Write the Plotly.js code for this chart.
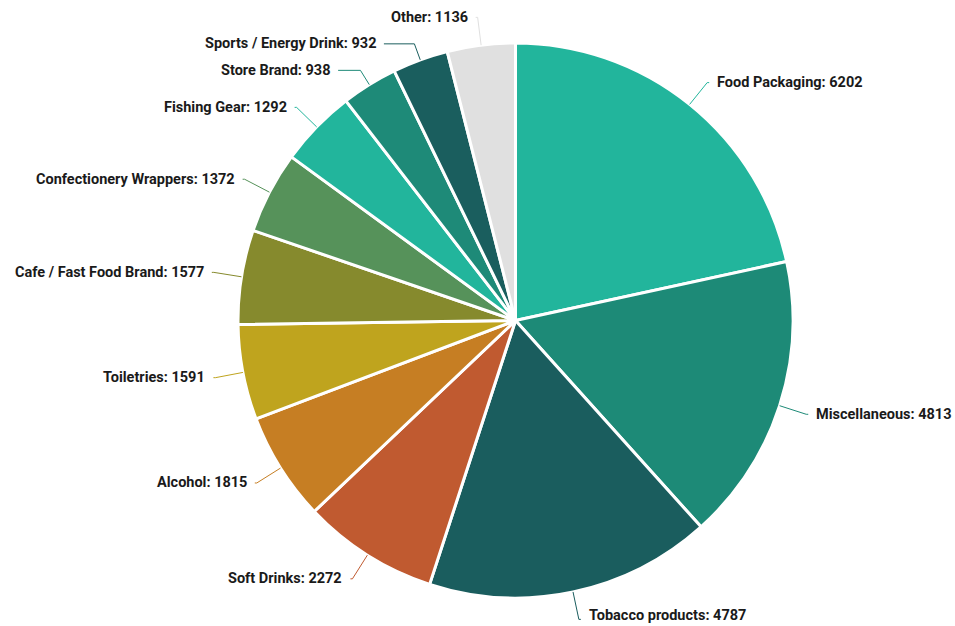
<!DOCTYPE html>
<html>
<head>
<meta charset="utf-8">
<script src="https://cdn.plot.ly/plotly-3.0.1.min.js"></script>
<style>html,body{margin:0;padding:0;background:#fff;}#chart{width:955px;height:626px;}</style>
</head>
<body>
<div id="chart"></div>
<script>
const categories = ["Food Packaging","Miscellaneous","Tobacco products","Soft Drinks","Alcohol","Toiletries","Cafe / Fast Food Brand","Confectionery Wrappers","Fishing Gear","Store Brand","Sports / Energy Drink","Other"];
const values = [6202,4813,4787,2272,1815,1591,1577,1372,1292,938,932,1136];
const colors = ["#22b59c","#1d8a77","#1a5d5e","#c05a30","#c67e23","#bfa41e","#868a2d","#56925a","#22b59c","#1e8a78","#1a5e5e","#e0e0e0"];

const W = 955, H = 626;
const cx = 515.5, cy = 320.5, r = 277.5;
const dom = {x:[(cx-r)/W,(cx+r)/W], y:[(H-cy-r)/H,(H-cy+r)/H]};

const total = values.reduce((a,b)=>a+b,0);
const R = r + 28, gap = 8, minSpace = 26.5, edgePad = 11;
let cum = 0;
const labels = values.map((v,i)=>{
  const mid = (cum + v/2)/total*2*Math.PI; cum += v;
  const s = Math.sin(mid), c = Math.cos(mid);
  return {i, s, c, side: s>=0?1:-1, ex: cx + r*s, ey: cy - r*c, y: cy - R*c, ny: cy - R*c, pushed:false};
});
[1,-1].forEach(side=>{
  const arr = labels.filter(l=>l.side===side).sort((a,b)=>a.ny-b.ny);
  for(let k=1;k<arr.length;k++){
    if(arr[k].y < arr[k-1].y + minSpace){ arr[k].y = arr[k-1].y + minSpace; arr[k].pushed = true; }
  }
});
const px = x=>x/W, py = y=>1-y/H;
const shapes = [], annotations = [];
labels.forEach(l=>{
  let bx, by = l.y, ax;
  if (!l.pushed) { bx = cx + R*l.s; ax = bx; }
  else {
    const t = (l.ey - l.y)/(l.c); bx = l.ex + l.s*t;
    const dy = l.y - cy;
    ax = Math.abs(dy) < R ? cx + l.side*Math.sqrt(R*R-dy*dy) : bx;
    if (l.side>0) ax = Math.max(ax, bx); else ax = Math.min(ax, bx);
  }
  const ty = Math.min(Math.max(by, edgePad), H - edgePad);
  shapes.push({type:'path', xref:'paper', yref:'paper',
    path:`M ${px(l.ex)} ${py(l.ey)} L ${px(bx)} ${py(by)} L ${px(ax + l.side*2)} ${py(by)}`,
    line:{color:colors[l.i], width:1}});
  annotations.push({xref:'paper', yref:'paper', x:px(ax + l.side*gap), y:py(ty),
    xanchor: l.side>0?'left':'right', yanchor:'middle', showarrow:false,
    text:'<b>'+categories[l.i]+': '+values[l.i]+'</b>',
    font:{family:'Roboto, Arial, sans-serif', size:14.5, color:'#1a1a1a'}});
});

Plotly.newPlot('chart', [{
  type:'pie', labels:categories, values:values, sort:false, direction:'clockwise', rotation:0,
  marker:{colors:colors, line:{color:'#ffffff', width:3}},
  textinfo:'none', hoverinfo:'label+value', domain:dom
}], {
  width:W, height:H, margin:{l:0,r:0,t:0,b:0}, showlegend:false,
  paper_bgcolor:'#fff', shapes:shapes, annotations:annotations
}, {displayModeBar:false, staticPlot:true});
</script>
</body>
</html>
